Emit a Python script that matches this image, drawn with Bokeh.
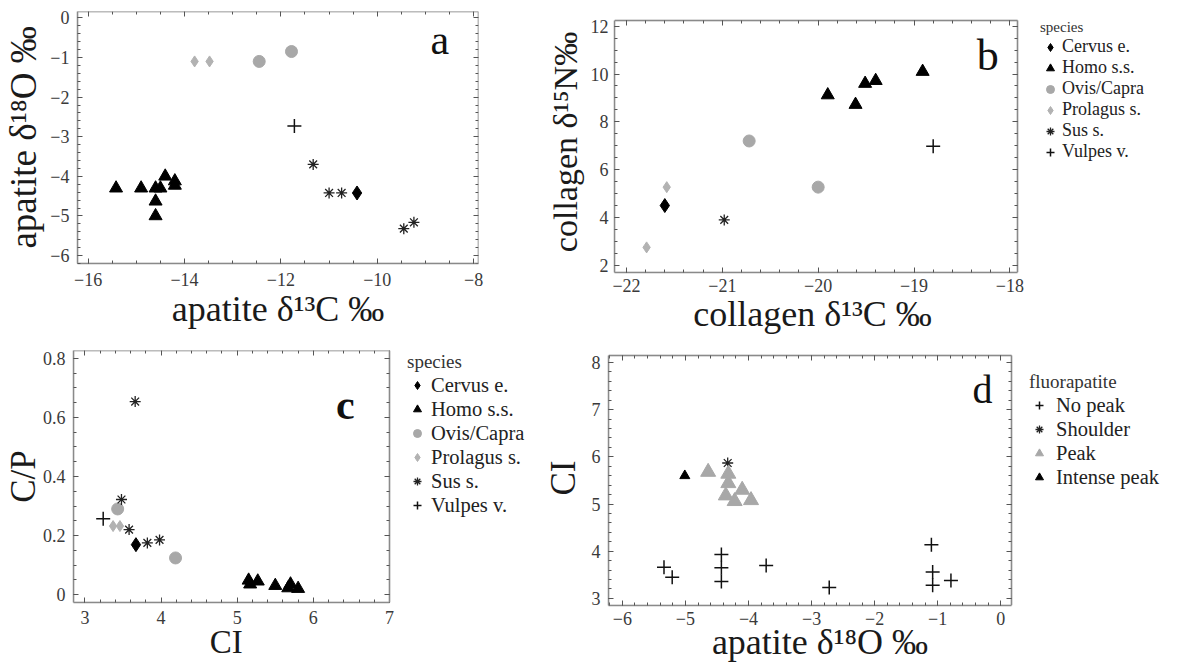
from bokeh.plotting import figure
from bokeh.models import (LinearAxis, SingleIntervalTicker, Range1d, Legend,
                          LegendItem, Label, BoxAnnotation)
from bokeh.layouts import column, row
from bokeh.embed import file_html
from bokeh.resources import INLINE

FONT = "Liberation Serif"
NB = "\u00a0"

# ---------------- data ----------------
species = ["Cervus e.", "Homo s.s.", "Ovis/Capra", "Prolagus s.", "Sus s.", "Vulpes v."]

# panel a: apatite d13C vs apatite d18O
a_species = ["Homo s.s.", "Homo s.s.", "Homo s.s.", "Homo s.s.", "Homo s.s.",
             "Homo s.s.", "Homo s.s.", "Homo s.s.", "Homo s.s.",
             "Prolagus s.", "Prolagus s.", "Ovis/Capra", "Ovis/Capra", "Vulpes v.",
             "Sus s.", "Sus s.", "Sus s.", "Sus s.", "Sus s.", "Cervus e."]
a_d13c = [-15.42, -14.9, -14.6, -14.5, -14.6, -14.6, -14.4, -14.2, -14.2,
          -13.79, -13.48, -12.45, -11.78, -11.72,
          -11.33, -11.0, -10.74, -9.45, -9.24, -10.42]
a_d18o = [-4.3, -4.3, -4.3, -4.3, -4.63, -5.0, -4.0, -4.12, -4.23,
          -1.1, -1.1, -1.1, -0.85, -2.73,
          -3.7, -4.42, -4.42, -5.32, -5.16, -4.42]

# panel b: collagen d13C vs collagen d15N
b_species = ["Prolagus s.", "Prolagus s.", "Cervus e.", "Sus s.", "Ovis/Capra", "Ovis/Capra",
             "Homo s.s.", "Homo s.s.", "Homo s.s.", "Homo s.s.", "Homo s.s.", "Vulpes v."]
b_d13c = [-21.79, -21.58, -21.6, -20.98, -20.72, -20.0,
          -19.9, -19.61, -19.51, -19.4, -18.91, -18.8]
b_d15n = [2.75, 5.27, 4.5, 3.9, 7.2, 5.27,
          9.12, 8.72, 9.6, 9.72, 10.1, 6.98]

# panel c: CI vs C/P
c_species = ["Sus s.", "Sus s.", "Sus s.", "Sus s.", "Sus s.", "Ovis/Capra", "Ovis/Capra",
             "Vulpes v.", "Prolagus s.", "Prolagus s.", "Cervus e.",
             "Homo s.s.", "Homo s.s.", "Homo s.s.", "Homo s.s.", "Homo s.s.", "Homo s.s.", "Homo s.s."]
c_ci = [3.66, 3.48, 3.58, 3.82, 3.98, 3.43, 4.19,
        3.24, 3.37, 3.46, 3.67,
        5.15, 5.17, 5.27, 5.5, 5.67, 5.7, 5.8]
c_cp = [0.654, 0.322, 0.22, 0.175, 0.185, 0.29, 0.124,
        0.257, 0.232, 0.232, 0.169,
        0.048, 0.035, 0.045, 0.03, 0.022, 0.035, 0.02]

# panel d: apatite d18O vs CI, by fluorapatite peak
fluor_classes = ["No peak", "Shoulder", "Peak", "Intense peak"]
d_class = ["No peak"] * 11 + ["Shoulder"] + ["Peak"] * 7 + ["Intense peak"]
d_d18o = [-5.34, -5.21, -4.43, -4.43, -4.43, -3.72, -2.72, -1.1, -1.08, -1.08, -0.79,
          -4.33,
          -4.64, -4.32, -4.32, -4.36, -4.22, -4.1, -3.96,
          -5.01]
d_ci = [3.66, 3.45, 3.93, 3.65, 3.36, 3.7, 3.23, 4.14, 3.56, 3.28, 3.38,
        5.87,
        5.68, 5.64, 5.44, 5.18, 5.06, 5.3, 5.08,
        5.6]

# ---------------- styles ----------------
SP_STYLE = {
    "Cervus e.": dict(marker="diamond", size=14, fill_color="black", line_color="black"),
    "Homo s.s.": dict(marker="triangle", size=13, fill_color="black", line_color="black"),
    "Ovis/Capra": dict(marker="circle", size=12, fill_color="#a8a8a8", line_color="#a8a8a8"),
    "Prolagus s.": dict(marker="diamond", size=11, fill_color="#b2b2b2", line_color="#b2b2b2"),
    "Sus s.": dict(marker="asterisk", size=11, line_color="#222222", line_width=1.3),
    "Vulpes v.": dict(marker="cross", size=14, line_color="#111111", line_width=1.5),
}
FL_STYLE = {
    "No peak": dict(marker="cross", size=14, line_color="#111111", line_width=1.5),
    "Shoulder": dict(marker="asterisk", size=11, line_color="#222222", line_width=1.3),
    "Peak": dict(marker="triangle", size=15, fill_color="#a8a8a8", line_color="#a8a8a8"),
    "Intense peak": dict(marker="triangle", size=10, fill_color="black", line_color="black"),
}

FRAME_COL = "#8a8a8a"
TICK_COL = "#555555"
LABEL_COL = "#3a3a3a"


def style_axis(ax):
    ax.axis_line_color = FRAME_COL
    ax.axis_line_width = 1.5
    ax.major_tick_in = 5
    ax.major_tick_out = 0
    ax.minor_tick_in = 3
    ax.minor_tick_out = 0
    ax.major_tick_line_color = TICK_COL
    ax.minor_tick_line_color = TICK_COL
    ax.major_label_text_font = FONT
    ax.major_label_text_font_size = "18px"
    ax.major_label_text_color = LABEL_COL
    ax.axis_label_text_font = FONT
    ax.axis_label_text_font_style = "normal"
    ax.axis_label_text_color = "#1a1a1a"


def make_panel(vis_x, vis_y, real_x, real_y, fw, fh, bl, br, bt, bb,
               xtick, ytick, xlabel, ylabel, xls, yls, xlab_so, ylab_so,
               xlab_size, ylab_size, yover=None):
    """Figure whose visible plot box is vis_x/vis_y inside a (possibly larger)
    frame real_x/real_y; the extra frame room holds the legend."""
    p = figure(x_range=Range1d(*real_x), y_range=Range1d(*real_y),
               frame_width=fw, frame_height=fh,
               min_border_left=bl, min_border_right=br,
               min_border_top=bt, min_border_bottom=bb,
               x_axis_type=None, y_axis_type=None,
               output_backend="svg", toolbar_location=None)
    p.xgrid.visible = False
    p.ygrid.visible = False
    p.outline_line_color = None
    p.background_fill_color = "white"
    p.border_fill_color = "white"
    p.add_layout(BoxAnnotation(left=vis_x[0], right=vis_x[1],
                               bottom=vis_y[0], top=vis_y[1],
                               fill_alpha=0, line_color=FRAME_COL, line_width=1.5,
                               level="underlay"))

    bottom = LinearAxis(ticker=xtick, axis_label=xlabel, bounds=vis_x)
    left = LinearAxis(ticker=ytick, axis_label=ylabel, bounds=vis_y)
    top = LinearAxis(ticker=xtick, bounds=vis_x, fixed_location=vis_y[1])
    right = LinearAxis(ticker=ytick, bounds=vis_y, fixed_location=vis_x[1])
    for ax in (bottom, left, top, right):
        style_axis(ax)
    bottom.major_label_standoff = xls
    left.major_label_standoff = yls
    bottom.axis_label_standoff = xlab_so
    left.axis_label_standoff = ylab_so
    bottom.axis_label_text_font_size = xlab_size
    left.axis_label_text_font_size = ylab_size
    if yover:
        left.major_label_overrides = yover
    for ax in (top, right):
        ax.major_label_text_color = None
        ax.major_label_standoff = 0
    p.add_layout(bottom, "below")
    p.add_layout(left, "left")
    p.add_layout(top, "above")
    p.add_layout(right, "right")
    return p


def draw_groups(p, cats, xs, ys, order, styles):
    items = []
    for cat in order:
        idx = [i for i, c in enumerate(cats) if c == cat]
        r = p.scatter([xs[i] for i in idx], [ys[i] for i in idx], **styles[cat])
        items.append(LegendItem(label=cat, renderers=[r]))
    return items


def add_legend(p, items, title, title_size, label_size, loc, row_h,
               standoff, title_standoff):
    lg = Legend(items=items, title=title, location=loc)
    lg.title_text_font = FONT
    lg.title_text_font_size = title_size
    lg.title_text_font_style = "normal"
    lg.title_text_color = "#333333"
    lg.title_standoff = title_standoff
    lg.label_text_font = FONT
    lg.label_text_font_size = label_size
    lg.label_text_color = "#222222"
    lg.border_line_color = None
    lg.background_fill_alpha = 0
    lg.padding = 0
    lg.margin = 0
    lg.spacing = 0
    lg.glyph_width = 20
    lg.glyph_height = row_h
    lg.label_height = row_h
    lg.label_standoff = standoff
    p.add_layout(lg)


def letter(p, x, y, t, size, bold=False):
    p.add_layout(Label(x=x, y=y, text=t, text_font=FONT, text_font_size=size,
                       text_font_style="bold" if bold else "normal",
                       text_align="center", text_baseline="middle",
                       text_color="#111111"))


# ---------------- panel a ----------------
pa = make_panel((-16.22, -7.9), (-6.2, 0.16), (-16.22, -7.9), (-6.2, 0.16),
                401, 252, 70, 65, 11, 78,
                SingleIntervalTicker(interval=2, num_minor_ticks=4),
                SingleIntervalTicker(interval=1, num_minor_ticks=5),
                "apatite δ¹³C ‰", "apatite δ¹⁸O ‰", 9, 8, 0, 3, "36px", "37px")
draw_groups(pa, a_species, a_d13c, a_d18o, species, SP_STYLE)
letter(pa, -8.7, -0.55, "a", "42px")

# ---------------- panel b ----------------
pb = make_panel((-22.125, -17.92), (1.7, 12.24), (-22.125, -16.303), (1.7, 12.614),
                558, 261, 69, 4, 11, 69,
                SingleIntervalTicker(interval=1, num_minor_ticks=5),
                SingleIntervalTicker(interval=2, num_minor_ticks=4),
                "collagen δ¹³C ‰" + NB * 18, "collagen δ¹⁵N‰", 6, 6, -1, 4, "36px", "34px")
items_b = draw_groups(pb, b_species, b_d13c, b_d15n, species, SP_STYLE)
add_legend(pb, items_b, "species", "15px", "18px", (426, 110), 20, 2, 0)
letter(pb, -18.23, 10.77, "b", "44px")

# ---------------- panel c ----------------
pc = make_panel((2.85, 7.0), (-0.027, 0.827), (2.85, 8.9175), (-0.027, 0.827),
                462, 252, 70, 4, 9, 66,
                SingleIntervalTicker(interval=1, num_minor_ticks=5),
                SingleIntervalTicker(interval=0.2, num_minor_ticks=4),
                "CI" + NB * 19, "C/P", 8, 8, -3, -3, "33px", "35px", yover={0: "0"})
items_c = draw_groups(pc, c_species, c_ci, c_cp, species, SP_STYLE)
add_legend(pc, items_c, "species", "19px", "20.5px", (334, 85), 24, 4, 0)
letter(pc, 6.42, 0.644, "c", "42px", bold=True)

# ---------------- panel d ----------------
pd_ = make_panel((-6.22, 0.17), (2.85, 8.15), (-6.22, 2.628), (2.85, 8.254),
                 558, 255, 69, 4, 9, 63,
                 SingleIntervalTicker(interval=1, num_minor_ticks=5),
                 SingleIntervalTicker(interval=1, num_minor_ticks=5),
                 "apatite δ¹⁸O ‰" + NB * 15, "CI", 6, 8, -6, 6, "36px", "35px")
items_d = draw_groups(pd_, d_class, d_d18o, d_ci, fluor_classes, FL_STYLE)
add_legend(pd_, items_d, "fluorapatite", "19px", "20.5px", (421, 116), 24, 7, 0)
letter(pd_, -0.29, 7.43, "d", "40px")

layout = column(row(pa, pb), row(pc, pd_))

with open("out.html", "w") as f:
    f.write(file_html(layout, INLINE))
